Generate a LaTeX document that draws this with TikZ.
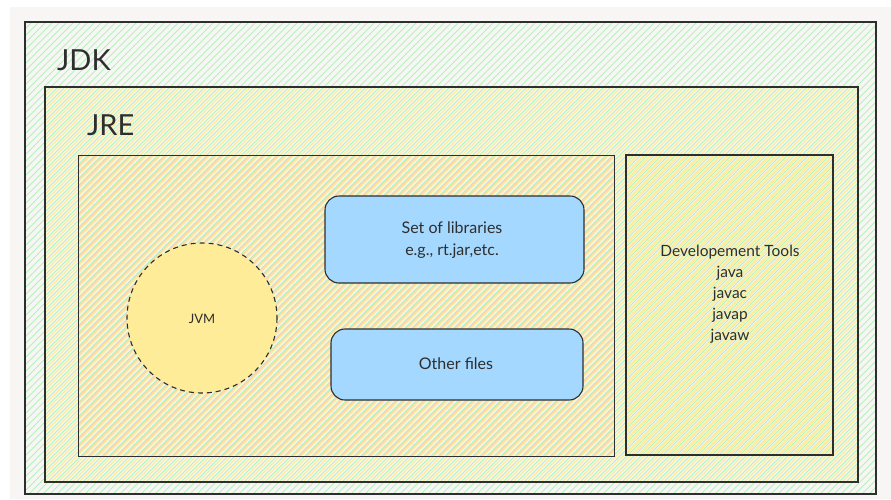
\documentclass[tikz,border=0pt]{standalone}
\usepackage{fontspec}
\setmainfont{Lato}
\definecolor{paper}{HTML}{F8F6F4}
\definecolor{hgreen}{HTML}{B2F2BB}
\definecolor{hyellow}{HTML}{FFEC99}
\definecolor{horange}{HTML}{FFD8A8}
\definecolor{boxblue}{HTML}{A5D8FF}
\definecolor{ink}{HTML}{2E2E2E}

% hatched fill of a rectangle: x1 y1 x2 y2 colour offset gap width
\newcommand\hatchrect[8]{%
  \begin{scope}
    \clip (#1,#2) rectangle (#3,#4);
    \pgfmathsetmacro\hs{#1+#2+#6}
    \pgfmathsetmacro\hn{#1+#2+#6+#7}
    \pgfmathsetmacro\he{#3+#4}
    \foreach \c in {\hs,\hn,...,\he}
      \draw[#5, line width=#8] (\c-#2,#2) -- (\c-#4,#4);
  \end{scope}}

\begin{document}
\begin{tikzpicture}[x=1pt,y=-1pt,
  frame/.style={draw=ink, line width=1.8pt},
  thinframe/.style={draw=ink, line width=1pt},
  pill/.style={draw=ink, line width=1.1pt, fill=boxblue, rounded corners=14pt},
  bigtitle/.style={font=\fontsize{29}{29}\selectfont, text=ink, anchor=base west, inner sep=0pt},
  hand/.style={font=\fontsize{16}{22}\selectfont, text=ink, align=center},
  tools/.style={font=\fontsize{15.5}{21}\selectfont, text=ink, align=center}]
\useasboundingbox (0,0) rectangle (891,499);
\fill[white] (0,0) rectangle (891,499);
\fill[paper] (10,7) rectangle (891,499);

% JDK
\hatchrect{25}{22}{876}{494}{hgreen}{0}{7}{1pt}
\draw[frame] (25,22) rectangle (876,494);
\node[bigtitle] (jdk) at (57,70) {JDK};

% JRE
\hatchrect{45}{87}{858}{482}{hyellow}{2.3}{7}{1.2pt}
\draw[frame] (45,87) rectangle (858,482);
\node[bigtitle] (jre) at (87,135) {JRE};

% runtime contents area
\hatchrect{78}{155}{614}{456}{horange}{4.6}{7}{1.3pt}
\draw[thinframe] (78,155) rectangle (614,456);

% development tools
\hatchrect{626}{155}{833}{455}{hyellow}{4.6}{7}{2pt}
\draw[frame] (626,155) rectangle (833,455);
\node[tools] (tools) at (730,294) {Developement Tools\\java\\javac\\javap\\javaw};

% libraries and other files
\draw[pill] (325,196) rectangle (584,283);
\node[hand] (libs) at (452,240) {Set of libraries\\e.g., rt.jar,etc.};
\draw[pill] (331,329) rectangle (583,400);
\node[hand] (other) at (456,364) {Other files};

% JVM
\draw[draw=ink, line width=1.1pt, dash pattern=on 5pt off 4pt, fill=hyellow] (202,318) circle (75);
\node[font=\fontsize{13}{13}\selectfont, text=ink] (jvm) at (202,319) {JVM};
\end{tikzpicture}
\end{document}
